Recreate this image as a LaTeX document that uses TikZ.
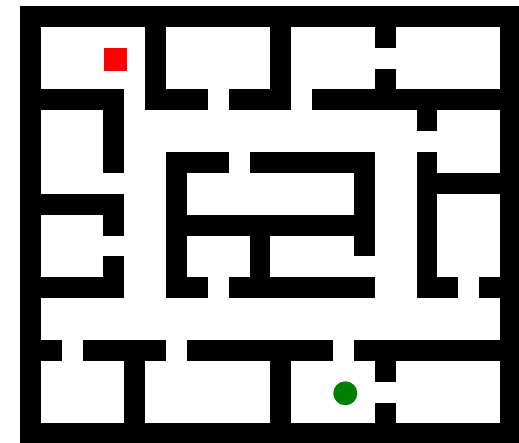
\documentclass[tikz,border=0pt]{standalone}
\begin{document}
\begin{tikzpicture}[x=1pt,y=-1pt,
  wallfill/.style={fill=black,draw=none},
  startbox/.style={rectangle,fill=red,draw=none,minimum size=23pt,inner sep=0pt},
  goaldot/.style={circle,fill={rgb,255:red,0;green,128;blue,0},draw=none,minimum size=24pt,inner sep=0pt}]
\useasboundingbox (0,0) rectangle (519,443);
\clip (0,0) rectangle (519,443);
\fill[white] (0,0) rectangle (519,443);
\def\mzu{20.87}
\newcommand{\mzwall}[4]{\fill[wallfill] ({20+#1*\mzu},{6+#2*\mzu}) rectangle ({20+(#3+1)*\mzu},{6+(#4+1)*\mzu});}
% outer frame
\mzwall{0}{0}{23}{0}
\mzwall{0}{20}{23}{20}
\mzwall{0}{0}{0}{20}
\mzwall{23}{0}{23}{20}
% row 4
\mzwall{0}{4}{4}{4}
\mzwall{6}{4}{8}{4}
\mzwall{10}{4}{12}{4}
\mzwall{14}{4}{22}{4}
\mzwall{6}{1}{6}{4}
\mzwall{12}{1}{12}{4}
\mzwall{17}{1}{17}{1}
\mzwall{17}{3}{17}{4}
\mzwall{4}{4}{4}{7}
\mzwall{19}{5}{19}{5}
% centre block
\mzwall{7}{7}{9}{7}
\mzwall{11}{7}{16}{7}
\mzwall{7}{7}{7}{13}
\mzwall{16}{7}{16}{11}
\mzwall{7}{10}{16}{10}
\mzwall{11}{10}{11}{13}
\mzwall{7}{13}{8}{13}
\mzwall{10}{13}{16}{13}
% right side
\mzwall{19}{7}{19}{13}
\mzwall{19}{8}{22}{8}
\mzwall{19}{13}{20}{13}
\mzwall{22}{13}{22}{13}
% left side
\mzwall{0}{9}{4}{9}
\mzwall{4}{10}{4}{10}
\mzwall{4}{12}{4}{13}
\mzwall{0}{13}{4}{13}
% row 16
\mzwall{0}{16}{1}{16}
\mzwall{3}{16}{6}{16}
\mzwall{8}{16}{14}{16}
\mzwall{16}{16}{23}{16}
\mzwall{5}{16}{5}{19}
\mzwall{12}{16}{12}{19}
\mzwall{17}{17}{17}{17}
\mzwall{17}{19}{17}{19}
% markers
\node[startbox] (start) at (115,59.2) {};
\node[goaldot] (goal) at (345.3,393.3) {};
\end{tikzpicture}
\end{document}
